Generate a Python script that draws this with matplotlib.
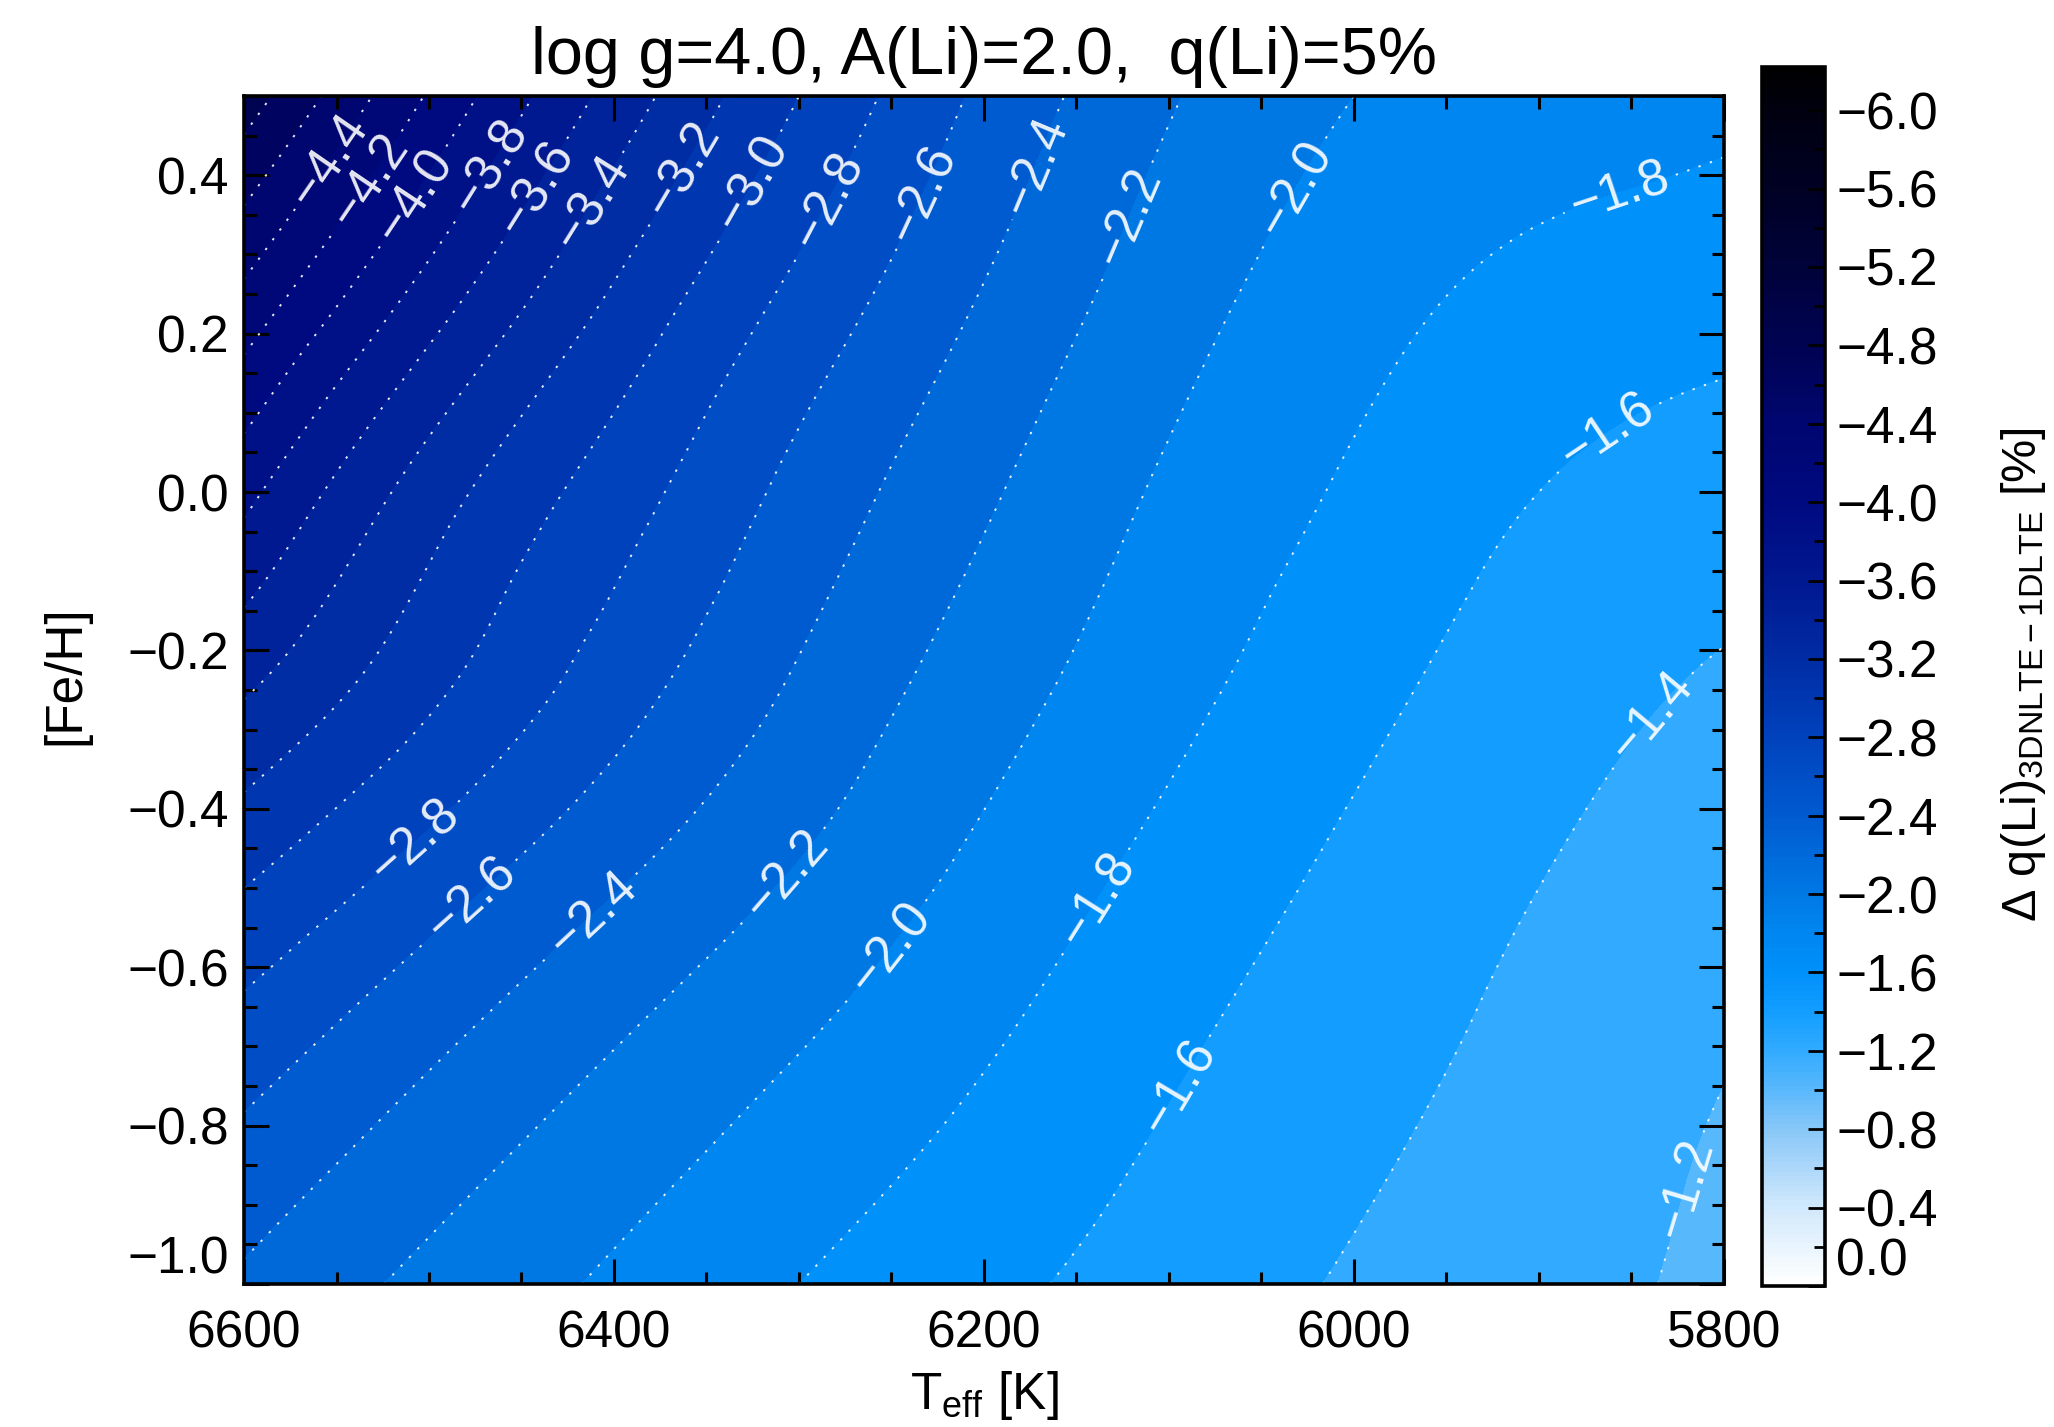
import numpy as np
import matplotlib
matplotlib.use('Agg')
import matplotlib.pyplot as plt
import matplotlib.tri as mtri
from matplotlib.colors import LinearSegmentedColormap, Normalize
from matplotlib.ticker import MultipleLocator, FuncFormatter
import matplotlib.cm as cm

plt.rcParams['font.family'] = ['Liberation Sans', 'DejaVu Sans']
plt.rcParams['mathtext.fontset'] = 'custom'
plt.rcParams['mathtext.rm'] = 'Liberation Sans'
plt.rcParams['mathtext.it'] = 'Liberation Sans:italic'

# grid of Delta q(Li) [%]
teff = [6600, 6500, 6400, 6300, 6200, 6100, 6000, 5900, 5800]
feh = [0.5, 0.25, 0.0, -0.25, -0.5, -0.75, -1.0]
dq_feh_p050 = [-4.91, -4.18, -3.53, -3.00, -2.56, -2.22, -2.00, -1.93, -1.86]
dq_feh_p025 = [-4.36, -3.72, -3.18, -2.75, -2.39, -2.09, -1.88, -1.74, -1.67]
dq_feh_p000 = [-3.86, -3.30, -2.90, -2.54, -2.23, -1.97, -1.77, -1.60, -1.51]
dq_feh_m025 = [-3.42, -3.04, -2.69, -2.37, -2.09, -1.86, -1.66, -1.49, -1.375]
dq_feh_m050 = [-3.00, -2.69, -2.41, -2.17, -1.94, -1.73, -1.55, -1.40, -1.29]
dq_feh_m075 = [-2.64, -2.38, -2.16, -1.97, -1.79, -1.61, -1.46, -1.33, -1.20]
dq_feh_m100 = [-2.37, -2.15, -1.97, -1.80, -1.65, -1.51, -1.38, -1.27, -1.16]

# where the contour labels sit (Teff, [Fe/H])
label_teff = [6555, 6530, 6504, 6466, 6440, 6407, 6361, 6325, 6284, 6235, 6176, 6122, 6034, 5861,
              6509, 6476, 6410, 6307, 6250, 6137, 5866, 6094, 5845, 5824]
label_feh = [0.42, 0.39, 0.368, 0.41, 0.38, 0.358, 0.406, 0.39, 0.368, 0.378, 0.416, 0.348, 0.386, 0.414,
             -0.438, -0.517, -0.537, -0.482, -0.577, -0.517, 0.087, -0.752, -0.272, -0.877]

# colour table (value -> colour)
cbar_values = [-6.22, -6.0, -5.6, -5.2, -4.8, -4.4, -4.0, -3.6, -3.2, -2.8, -2.4, -2.0, -1.8, -1.6,
               -1.4, -1.2, -1.0, -0.8, -0.4, 0.0]
cbar_colors = ['#000000', '#000010', '#000124', '#00023a', '#000352', '#000670', '#000a80', '#001890',
               '#002ca4', '#0042bc', '#005ad0', '#0078e4', '#0086f0', '#0090fa',
               '#129dff', '#30aaff', '#58b8fc', '#86c6f8', '#d0e8fc', '#ffffff']

vmin, vmax = -6.22, 0.0
pos = [(v - vmin) / (vmax - vmin) for v in cbar_values]
cmap = LinearSegmentedColormap.from_list('dq', list(zip(pos, cbar_colors)))
norm = Normalize(vmin=vmin, vmax=vmax)

# smooth surface through the grid
z = np.array([dq_feh_p050, dq_feh_p025, dq_feh_p000, dq_feh_m025, dq_feh_m050, dq_feh_m075, dq_feh_m100])
TT, FF = np.meshgrid(teff, feh)
tri = mtri.Triangulation(((6600 - TT) / 100.0).ravel(), ((FF + 1.0) / 0.25).ravel())
interp = mtri.CubicTriInterpolator(tri, z.ravel(), kind='min_E')
tg = np.linspace(5800, 6600, 400)
fg = np.linspace(-1.0, 0.5, 400)
TG, FG = np.meshgrid(tg, fg)
u = np.clip((6600 - TG) / 100.0, 1e-6, 8 - 1e-6)
v = np.clip((FG + 1.0) / 0.25, 1e-6, 6 - 1e-6)
ZG = interp(u, v)

levels = np.round(np.arange(-6.2, 0.01, 0.2), 1)
band_colors = [cmap(norm(levels[i + 1])) for i in range(len(levels) - 1)]
line_levels = np.round(np.arange(-4.8, -1.19, 0.2), 1)

fig = plt.figure(figsize=(20.54, 14.27), dpi=100)
ax = fig.add_axes([0.1188, 0.1002, 0.7205, 0.8325])

ax.contourf(TG, FG, ZG, levels=levels, colors=band_colors, antialiased=False)
cs = ax.contour(TG, FG, ZG, levels=line_levels, colors='white', linewidths=1.4,
                linestyles=[(0, (1.2, 5.0))], alpha=0.9)
minus_fmt = lambda val: f'{val:.1f}'.replace('-', '\u2212')

# limits first, so the labels are placed and turned in the final screen space
ax.set_xlim(6600, 5800)
ax.set_ylim(-1.0, 0.5)
ax.clabel(cs, fmt=minus_fmt, inline=True, fontsize=37, colors='white',
          manual=list(zip(label_teff, label_feh)), inline_spacing=8)

ax.xaxis.set_major_locator(MultipleLocator(200))
ax.xaxis.set_minor_locator(MultipleLocator(50))
ax.yaxis.set_major_locator(MultipleLocator(0.2))
ax.yaxis.set_minor_locator(MultipleLocator(0.05))
ax.xaxis.set_major_formatter(FuncFormatter(lambda val, p: f'{val:.0f}'))
ax.yaxis.set_major_formatter(FuncFormatter(lambda val, p: minus_fmt(val)))
ax.tick_params(which='both', direction='in', top=True, right=True, width=2.2, labelsize=37)
ax.tick_params(which='major', length=18)
ax.tick_params(which='minor', length=9)
ax.tick_params(axis='x', pad=18)
ax.tick_params(axis='y', pad=11)
for s in ax.spines.values():
    s.set_linewidth(2.6)

ax.set_title('log g=4.0, A(Li)=2.0,  q(Li)=5%', fontsize=48, pad=16)
ax.set_xlabel('T$_{\\rm eff}$ [K]', fontsize=37, labelpad=8)
fig.text(0.032, 0.527, '[Fe/H]', rotation=90, fontsize=37, ha='center', va='center')

fig.canvas.draw()
for t in ax.yaxis.get_major_ticks():
    if abs(t.get_loc() + 1.0) < 1e-6:
        t.label1.set_va('bottom')

# colour bar
cax = fig.add_axes([0.8578, 0.0988, 0.0307, 0.8542])
sm = cm.ScalarMappable(norm=norm, cmap=cmap)
cb = fig.colorbar(sm, cax=cax)
cax.set_ylim(0.0, vmin)
cb.set_ticks(np.round(np.arange(-6.0, 0.01, 0.4), 1))
cax.yaxis.set_major_formatter(FuncFormatter(lambda val, p: minus_fmt(val + 0.0)))
cax.yaxis.set_minor_locator(MultipleLocator(0.2))
cax.tick_params(which='both', direction='in', right=True, left=False, width=2.0, labelsize=37, pad=8)
cax.tick_params(which='major', length=12)
cax.tick_params(which='minor', length=8)
cb.outline.set_linewidth(2.6)
fig.canvas.draw()
for t in cax.yaxis.get_major_ticks():
    if abs(t.get_loc()) < 1e-6:
        t.label2.set_va('bottom')

fig.text(0.985, 0.527, '\u0394 q(Li)$_{\\rm 3DNLTE-1DLTE}$ [%]', rotation=90, fontsize=35,
         ha='center', va='center')

fig.savefig('out.png', dpi=100)
